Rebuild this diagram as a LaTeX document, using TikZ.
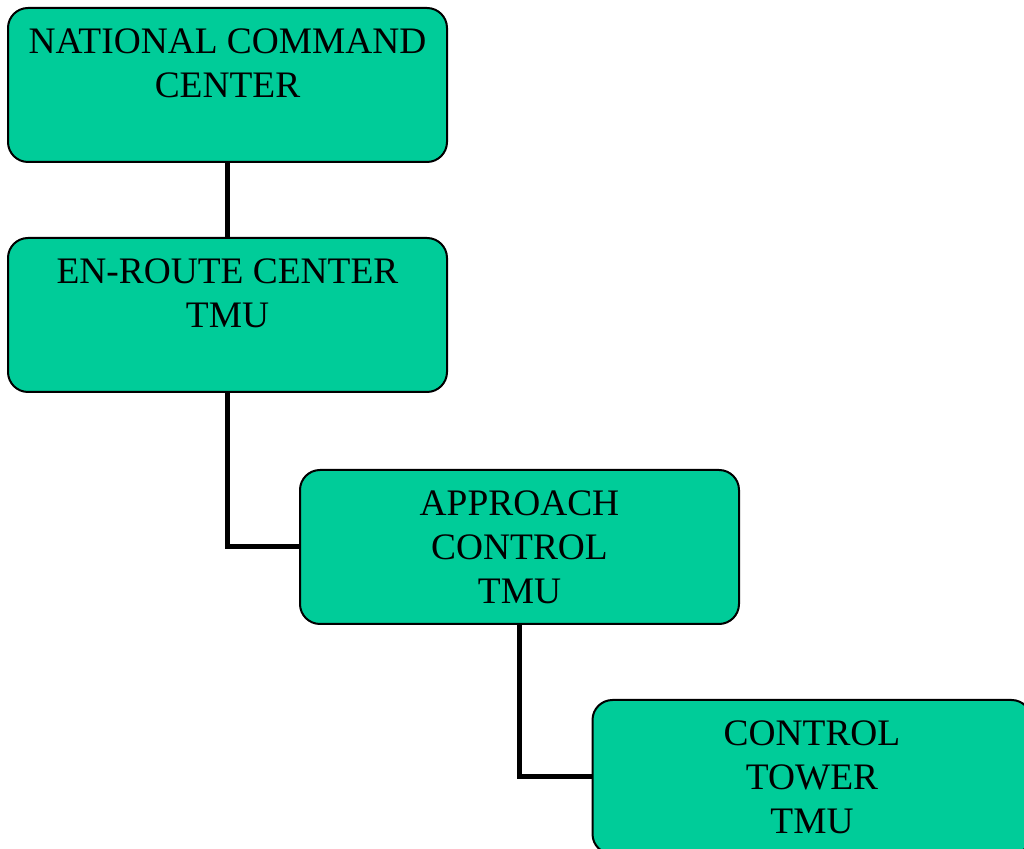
\documentclass[tikz,border=0pt]{standalone}
\usepackage{fontspec}
\setmainfont{Liberation Serif}
\usepackage{tikz}
\definecolor{tmugreen}{RGB}{0,204,153}

\begin{document}
\begin{tikzpicture}[x=0.5pt, y=-0.5pt,
    unit/.style={draw, fill=tmugreen, line width=1pt, rounded corners=10pt, minimum width=219.5pt, minimum height=77pt, inner sep=0pt},
    unit text/.style={anchor=north, yshift=-10.5pt, inner sep=0pt, align=center, font=\fontsize{18.7}{22}\selectfont},
    link/.style={line width=2.5pt}]
\useasboundingbox (0,0) rectangle (1024,849);

\path (227.5,85) node (national) [unit, label={[unit text]north:NATIONAL COMMAND\\CENTER}] {};
\path (227.5,315) node (enroute) [unit, label={[unit text]north:EN-ROUTE CENTER\\TMU}] {};
\path (519.5,547) node (approach) [unit, label={[unit text]north:APPROACH\\CONTROL\\TMU}] {};
\path (812,777) node (tower) [unit, label={[unit text]north:CONTROL\\TOWER\\TMU}] {};

\draw[link] (national.south) -- (enroute.north);
\draw[link] (enroute.south) |- (approach.west);
\draw[link] (approach.south) |- (tower.west);

\end{tikzpicture}
\end{document}
